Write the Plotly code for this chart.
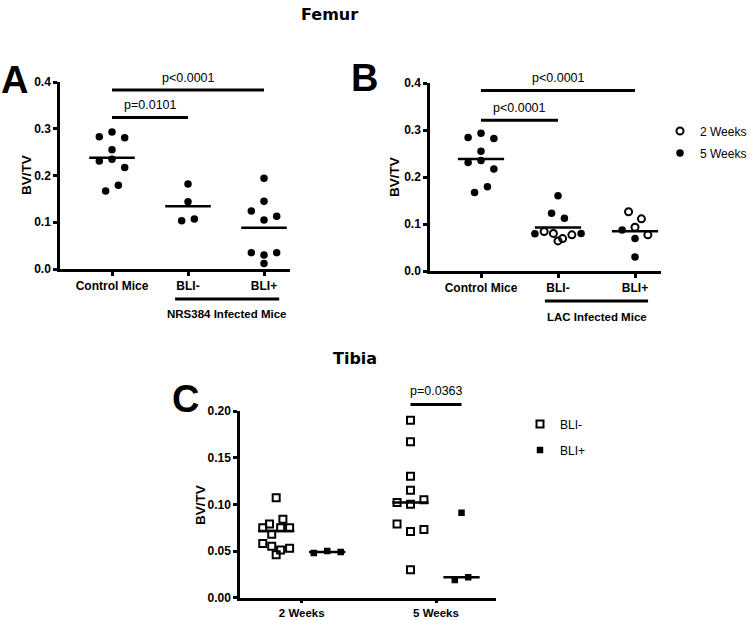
import plotly.graph_objects as go
import numpy as np

W, H = 750, 620

# ---------------- data ----------------
a_categories = ["Control Mice", "BLI-", "BLI+"]
a_control = [0.283, 0.293, 0.281, 0.255, 0.231, 0.235, 0.217, 0.167, 0.179]
a_bli_neg = [0.182, 0.144, 0.103, 0.107]
a_bli_pos = [0.194, 0.145, 0.124, 0.105, 0.113, 0.035, 0.030, 0.035, 0.012]

b_categories = ["Control Mice", "BLI-", "BLI+"]
b_control = [0.284, 0.293, 0.282, 0.255, 0.231, 0.235, 0.217, 0.167, 0.179]
b_control_week = [5, 5, 5, 5, 5, 5, 5, 5, 5]
b_bli_neg = [0.160, 0.123, 0.112, 0.079, 0.084, 0.080, 0.069, 0.077, 0.080, 0.064]
b_bli_neg_week = [5, 5, 5, 5, 2, 2, 2, 2, 5, 2]
b_bli_pos = [0.126, 0.111, 0.087, 0.093, 0.077, 0.069, 0.030]
b_bli_pos_week = [2, 2, 5, 2, 2, 5, 5]

c_categories = ["2 Weeks", "5 Weeks"]
c_bli_neg = [
    [0.107, 0.079, 0.084, 0.075, 0.068, 0.075, 0.075, 0.058, 0.055, 0.051, 0.053, 0.046],
    [0.190, 0.167, 0.130, 0.115, 0.102, 0.100, 0.105, 0.079, 0.071, 0.073, 0.030],
]
c_bli_pos = [
    [0.048, 0.050, 0.049],
    [0.091, 0.019, 0.022],
]

a_tests = [(0, 1, "p=0.0101"), (0, 2, "p<0.0001")]
b_tests = [(0, 1, "p<0.0001"), (0, 2, "p<0.0001")]
c_tests = [(1, "p=0.0363")]

# ---------------- geometry (pixels) ----------------
FONT = "Liberation Sans, Arial, sans-serif"
PAN = {
    "A": dict(xpx=(60, 290), cat0=112, step=76, ypx=(269, 82), yr=(0, 0.4)),
    "B": dict(xpx=(430, 661), cat0=481, step=77, ypx=(271, 83), yr=(0, 0.4)),
    "C": dict(xpx=(240, 496), cat0=301.7, step=134.3, ypx=(597.7, 411), yr=(0, 0.2)),
}


def xrange_(p):
    g = PAN[p]
    return [(g["xpx"][0] - g["cat0"]) / g["step"], (g["xpx"][1] - g["cat0"]) / g["step"]]


def xdom(p):
    g = PAN[p]
    return [g["xpx"][0] / W, g["xpx"][1] / W]


def ydom(p):
    g = PAN[p]
    return [1 - g["ypx"][0] / H, 1 - g["ypx"][1] / H]


def px_x(p, x):
    g = PAN[p]
    return (g["cat0"] + x * g["step"]) / W


def px_y(p, y):
    g = PAN[p]
    y0, y1 = g["ypx"]
    r0, r1 = g["yr"]
    return 1 - (y0 + (y - r0) / (r1 - r0) * (y1 - y0)) / H


def swarm(vals, w, step_max, spread):
    n = len(vals)
    order = sorted(range(n), key=lambda i: -vals[i])
    rows = []
    for i in order:
        if rows and vals[rows[-1][0]] - vals[i] < w:
            rows[-1].append(i)
        else:
            rows.append([i])
    offs = [0.0] * n
    for r in rows:
        r = sorted(r)
        m = len(r)
        st = step_max if m < 2 else min(step_max, spread / (m - 1))
        for k, i in enumerate(r):
            offs[i] = (k - (m - 1) / 2) * st
    return offs


fig = go.Figure()
shapes = []
ann = []

# ---------------- panel A ----------------
for i, vals in enumerate([a_control, a_bli_neg, a_bli_pos]):
    offs = swarm(vals, 0.0195, 0.167, 0.6)
    fig.add_trace(go.Scatter(
        x=[i + o for o in offs], y=vals, mode="markers", xaxis="x", yaxis="y",
        marker=dict(symbol="circle", size=7.5, color="black"), showlegend=False,
        hoverinfo="y"))
    m = float(np.mean(vals))
    shapes.append(dict(type="line", xref="x", yref="y", x0=i - 0.3, x1=i + 0.3, y0=m, y1=m,
                       line=dict(color="black", width=2.5)))

# ---------------- panel B ----------------
b_groups = [(b_control, b_control_week), (b_bli_neg, b_bli_neg_week), (b_bli_pos, b_bli_pos_week)]
xs2, ys2, xs5, ys5 = [], [], [], []
for i, (vals, wk) in enumerate(b_groups):
    offs = swarm(vals, 0.0195, 0.167, 0.6)
    for v, o, k in zip(vals, offs, wk):
        if k == 2:
            xs2.append(i + o); ys2.append(v)
        else:
            xs5.append(i + o); ys5.append(v)
    m = float(np.mean(vals))
    shapes.append(dict(type="line", xref="x2", yref="y2", x0=i - 0.3, x1=i + 0.3, y0=m, y1=m,
                       line=dict(color="black", width=2.5)))
fig.add_trace(go.Scatter(x=xs2, y=ys2, mode="markers", xaxis="x2", yaxis="y2", name="2 Weeks",
                         marker=dict(symbol="circle-open", size=7, color="black", line=dict(width=2)),
                         legend="legend", hoverinfo="y"))
fig.add_trace(go.Scatter(x=xs5, y=ys5, mode="markers", xaxis="x2", yaxis="y2", name="5 Weeks",
                         marker=dict(symbol="circle", size=7.5, color="black"),
                         legend="legend2", hoverinfo="y"))

# ---------------- panel C ----------------
GOFF = 0.19
xn, yn, xp, yp = [], [], [], []
for c in range(len(c_categories)):
    for vals, sign, xl, yl in [(c_bli_neg[c], -1, xn, yn), (c_bli_pos[c], 1, xp, yp)]:
        offs = swarm(vals, 0.0085, 0.1, 0.2)
        cx = c + sign * GOFF
        xl.extend([cx + o for o in offs]); yl.extend(vals)
        med = float(np.median(vals))
        shapes.append(dict(type="line", xref="x3", yref="y3", x0=cx - 0.135, x1=cx + 0.135,
                           y0=med, y1=med, line=dict(color="black", width=2.5)))
fig.add_trace(go.Scatter(x=xn, y=yn, mode="markers", xaxis="x3", yaxis="y3", name="BLI-",
                         marker=dict(symbol="square-open", size=7, color="black", line=dict(width=2)),
                         legend="legend3", hoverinfo="y"))
fig.add_trace(go.Scatter(x=xp, y=yp, mode="markers", xaxis="x3", yaxis="y3", name="BLI+",
                         marker=dict(symbol="square", size=6.5, color="black"),
                         legend="legend4", hoverinfo="y"))

# ---------------- significance bars ----------------
def sig(p, x0, x1, ybar, label, ytxt):
    shapes.append(dict(type="line", xref="paper", yref="paper", x0=px_x(p, x0), x1=px_x(p, x1),
                       y0=px_y(p, ybar), y1=px_y(p, ybar), line=dict(color="black", width=3)))
    ann.append(dict(text=label, xref="paper", yref="paper", x=px_x(p, (x0 + x1) / 2), y=px_y(p, ytxt),
                    showarrow=False, xanchor="center", yanchor="middle",
                    font=dict(family=FONT, size=12.5, color="black")))


sig("A", a_tests[0][0], a_tests[0][1], 0.324, a_tests[0][2], 0.350)
sig("A", a_tests[1][0], a_tests[1][1], 0.383, a_tests[1][2], 0.409)
sig("B", b_tests[0][0], b_tests[0][1], 0.321, b_tests[0][2], 0.347)
sig("B", b_tests[1][0], b_tests[1][1], 0.384, b_tests[1][2], 0.411)
sig("C", c_tests[0][0] - GOFF, c_tests[0][0] + GOFF, 0.207, c_tests[0][1], 0.221)

# ---------------- group brackets under x axis ----------------
def bracket(p, x0, x1, ypx, label, ytxt):
    shapes.append(dict(type="line", xref="paper", yref="paper", x0=px_x(p, x0), x1=px_x(p, x1),
                       y0=1 - ypx / H, y1=1 - ypx / H, line=dict(color="black", width=3)))
    ann.append(dict(text=label, xref="paper", yref="paper", x=px_x(p, (x0 + x1) / 2), y=1 - ytxt / H,
                    showarrow=False, xanchor="center", yanchor="middle",
                    font=dict(family=FONT, size=11.5, color="black", weight="bold")))


bracket("A", 0.83, 2.2, 299, "NRS384 Infected Mice", 314)
bracket("B", 0.83, 2.17, 301, "LAC Infected Mice", 317)

# ---------------- titles / letters / y titles ----------------
def text(t, xpx, ypx, size, family=FONT, weight="bold", angle=0):
    ann.append(dict(text=t, xref="paper", yref="paper", x=xpx / W, y=1 - ypx / H, showarrow=False,
                    xanchor="center", yanchor="middle", textangle=angle,
                    font=dict(family=family, size=size, color="black", weight=weight)))


text("Femur", 329, 15, 16, family="DejaVu Sans")
text("Tibia", 355, 358, 16, family="DejaVu Sans")
text("A", 14, 80, 38)
text("B", 364, 78, 38)
text("C", 185, 399, 38)
text("BV/TV", 27, 175, 13.5, angle=-90)
text("BV/TV", 395, 177, 13.5, angle=-90)
text("BV/TV", 200, 505, 13.5, angle=-90)

# ---------------- axes ----------------
tickfont = dict(family=FONT, size=12, color="black", weight="bold")


def xax(p, cats, anchor, ticklen=4, fsize=12):
    return dict(domain=xdom(p), range=xrange_(p), tickvals=list(range(len(cats))), ticktext=cats,
                anchor=anchor, showline=True, linewidth=2.5, linecolor="black", ticks="outside",
                ticklen=ticklen, tickwidth=2.5, tickcolor="black", showgrid=False, zeroline=False,
                tickfont=dict(tickfont, size=fsize), fixedrange=True)


def yax(p, dtick, fmt, anchor):
    return dict(domain=ydom(p), range=list(PAN[p]["yr"]), dtick=dtick, tick0=0, tickformat=fmt,
                anchor=anchor, showline=True, linewidth=2.5, linecolor="black", ticks="outside",
                ticklen=4, tickwidth=2.5, tickcolor="black", showgrid=False, zeroline=False,
                tickfont=tickfont, fixedrange=True)


legfont = dict(family=FONT, size=12, color="black")
leg = dict(xanchor="left", yanchor="middle", font=legfont, bgcolor="rgba(0,0,0,0)", borderwidth=0)
fig.update_layout(
    width=W, height=H, margin=dict(l=0, r=0, t=0, b=0, pad=0, autoexpand=False),
    paper_bgcolor="white", plot_bgcolor="white",
    xaxis=xax("A", a_categories, "y"), yaxis=yax("A", 0.1, ".1f", "x"),
    xaxis2=xax("B", b_categories, "y2"), yaxis2=yax("B", 0.1, ".1f", "x2"),
    xaxis3=xax("C", c_categories, "y3", ticklen=3, fsize=11.5), yaxis3=yax("C", 0.05, ".2f", "x3"),
    shapes=shapes, annotations=ann,
    legend=dict(leg, x=(680 - 20) / W, y=1 - 131 / H),
    legend2=dict(leg, x=(680 - 20) / W, y=1 - 153 / H),
    legend3=dict(leg, x=(540 - 20) / W, y=1 - 424 / H),
    legend4=dict(leg, x=(540 - 20) / W, y=1 - 450 / H),
)

fig.write_html("out.html", config={"displayModeBar": False},
               post_script="document.body.style.margin='0px';")
